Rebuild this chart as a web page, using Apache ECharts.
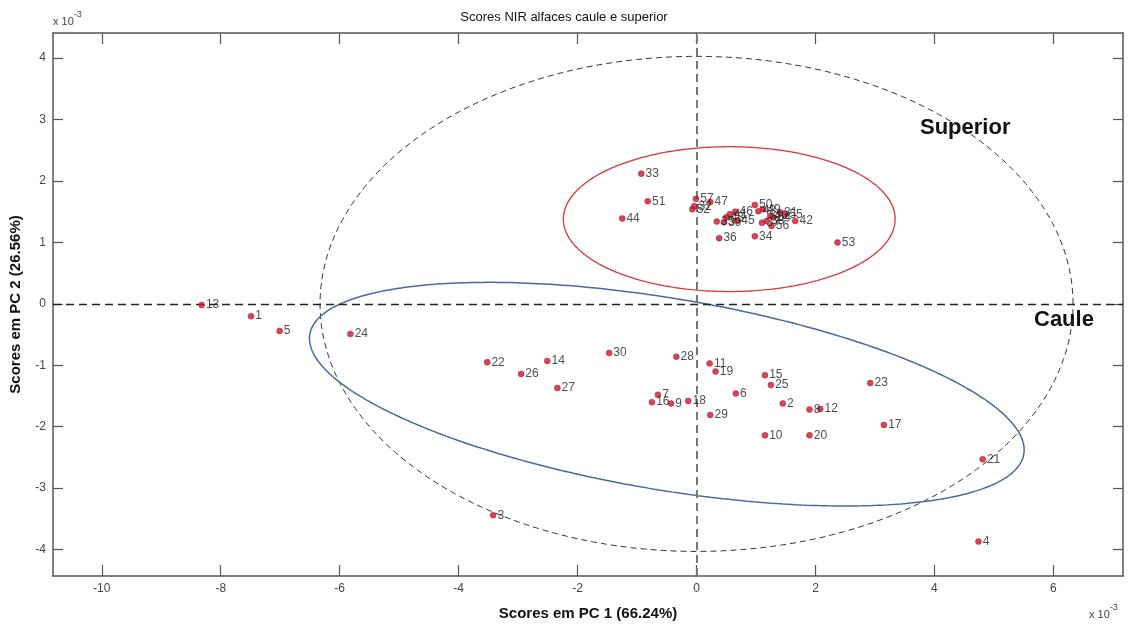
<!DOCTYPE html>
<html>
<head>
<meta charset="utf-8">
<script src="https://cdn.jsdelivr.net/npm/echarts@6/dist/echarts.min.js"></script>
<style>
html,body{margin:0;padding:0;background:#fff;}
#chart{width:1128px;height:626px;}
</style>
</head>
<body>
<div id="chart"></div>
<script>
// ---- data (scores in units of 1e-3) ----
const sampleIds = [1,2,3,4,5,6,7,8,9,10,11,12,13,14,15,16,17,18,19,20,21,22,23,24,25,26,27,28,29,30,
  31,32,33,34,35,36,37,38,39,40,41,42,43,44,45,46,47,48,49,50,51,52,53,54,55,56,57];
const pc1 = [-7.49,1.45,-3.42,4.74,-7.01,0.66,-0.65,1.90,-0.43,1.15,0.22,2.08,-8.32,-2.51,1.15,-0.75,3.15,-0.14,0.32,1.90,4.81,-3.52,2.92,-5.82,1.25,-2.95,-2.34,-0.34,0.23,-1.47,
  1.40,-0.04,-0.93,0.98,0.34,0.38,1.10,1.18,0.46,1.24,0.56,1.66,0.50,-1.25,0.68,0.65,0.23,1.04,1.12,0.98,-0.82,-0.07,2.37,1.29,1.49,1.26,-0.01];
const pc2 = [-0.20,-1.62,-3.44,-3.87,-0.44,-1.46,-1.48,-1.72,-1.62,-2.14,-0.97,-1.71,-0.02,-0.93,-1.16,-1.60,-1.97,-1.58,-1.10,-2.14,-2.53,-0.95,-1.29,-0.49,-1.32,-1.14,-1.37,-0.86,-1.81,-0.80,
  1.49,1.59,2.12,1.10,1.34,1.07,1.32,1.35,1.33,1.43,1.46,1.35,1.41,1.39,1.35,1.50,1.66,1.51,1.54,1.61,1.67,1.54,1.00,1.41,1.46,1.27,1.71];

const xTicks = [-10,-8,-6,-4,-2,0,2,4,6];
const yTicks = [-4,-3,-2,-1,0,1,2,3,4];
const xRange = [-10.82, 7.17];
const yRange = [-4.43, 4.41];

// ellipses: centre and covariance-like shape matrix (data units)
const limitCenter = [0, 0];
const limitShape = [[40.07, 0], [0, 16.24]];
const superiorCenter = [0.55, 1.38];
const superiorShape = [[7.78, 0], [0, 1.39]];
const cauleCenter = [-0.50, -1.47];
const cauleShape = [[36.10, -5.445], [-5.445, 3.314]];

function ellipse(center, M, n) {
  const l11 = Math.sqrt(M[0][0]);
  const l21 = M[1][0] / l11;
  const l22 = Math.sqrt(M[1][1] - l21 * l21);
  const pts = [];
  for (let i = 0; i <= n; i++) {
    const t = 2 * Math.PI * i / n;
    const c = Math.cos(t), s = Math.sin(t);
    pts.push([center[0] + l11 * c, center[1] + l21 * c + l22 * s]);
  }
  return pts;
}

const points = sampleIds.map((id, i) => [pc1[i], pc2[i], id]);
const FONT = '"Liberation Sans", Arial, sans-serif';

const chart = echarts.init(document.getElementById('chart'), null, {renderer: 'canvas'});
const axisColor = '#555';
chart.setOption({
  animation: false,
  backgroundColor: '#fff',
  textStyle: {fontFamily: FONT},
  title: {
    text: 'Scores NIR alfaces caule e superior',
    left: 'center', top: 6,
    textStyle: {fontSize: 13, fontWeight: 'normal', color: '#111', fontFamily: FONT}
  },
  grid: {left: 53, right: 5, top: 33, bottom: 46, containLabel: false},
  xAxis: [{
    type: 'value', position: 'bottom', min: xRange[0], max: xRange[1],
    axisLine: {show: true, onZero: false, lineStyle: {color: axisColor, width: 1.5}},
    axisTick: {show: true, inside: true, length: 11, customValues: xTicks, lineStyle: {color: axisColor, width: 1.2}},
    axisLabel: {customValues: xTicks, fontSize: 12, color: '#444', margin: 7, fontFamily: FONT},
    splitLine: {show: false},
    name: 'Scores em PC 1 (66.24%)', nameLocation: 'middle', nameGap: 30,
    nameTextStyle: {fontSize: 15, fontWeight: 'bold', color: '#111', fontFamily: FONT}
  }, {
    type: 'value', position: 'top', min: xRange[0], max: xRange[1],
    axisLine: {show: true, onZero: false, lineStyle: {color: axisColor, width: 1.5}},
    axisTick: {show: true, inside: true, length: 11, customValues: xTicks, lineStyle: {color: axisColor, width: 1.2}},
    axisLabel: {show: false}, splitLine: {show: false}
  }],
  yAxis: [{
    type: 'value', position: 'left', min: yRange[0], max: yRange[1],
    axisLine: {show: true, onZero: false, lineStyle: {color: axisColor, width: 1.5}},
    axisTick: {show: true, inside: true, length: 10, customValues: yTicks, lineStyle: {color: axisColor, width: 1.2}},
    axisLabel: {customValues: yTicks, fontSize: 12, color: '#444', margin: 7, fontFamily: FONT},
    splitLine: {show: false},
    name: 'Scores em PC 2 (26.56%)', nameLocation: 'middle', nameGap: 30, nameRotate: 90,
    nameTextStyle: {fontSize: 15, fontWeight: 'bold', color: '#111', fontFamily: FONT}
  }, {
    type: 'value', position: 'right', min: yRange[0], max: yRange[1],
    axisLine: {show: true, onZero: false, lineStyle: {color: axisColor, width: 1.5}},
    axisTick: {show: true, inside: true, length: 10, customValues: yTicks, lineStyle: {color: axisColor, width: 1.2}},
    axisLabel: {show: false}, splitLine: {show: false}
  }],
  series: [
    {
      type: 'line', z: 1, data: [], silent: true,
      markLine: {
        symbol: 'none', silent: true, animation: false,
        label: {show: false},
        data: [
          {xAxis: 0, lineStyle: {color: '#777', width: 2, type: [8, 5]}},
          {yAxis: 0, lineStyle: {color: '#222', width: 1.3, type: [8, 5]}}
        ]
      }
    },
    {
      type: 'line', z: 2, silent: true, showSymbol: false, symbol: 'none',
      data: ellipse(limitCenter, limitShape, 360),
      lineStyle: {color: '#333', width: 1, type: [6, 4]}
    },
    {
      type: 'line', z: 2, silent: true, showSymbol: false, symbol: 'none',
      data: ellipse(superiorCenter, superiorShape, 360),
      lineStyle: {color: '#e2323c', width: 1.3}
    },
    {
      type: 'line', z: 2, silent: true, showSymbol: false, symbol: 'none',
      data: ellipse(cauleCenter, cauleShape, 360),
      lineStyle: {color: '#4a6a9e', width: 1.5}
    },
    {
      type: 'scatter', z: 5, symbol: 'circle', symbolSize: 6,
      data: points,
      itemStyle: {color: '#d01430', borderColor: '#a00f24', borderWidth: 0.5},
      label: {
        show: true, position: 'right', distance: 1, offset: [0, 1],
        formatter: p => String(p.value[2]),
        fontSize: 12, color: '#222', fontFamily: FONT
      },
      labelLayout: {hideOverlap: false}
    }
  ],
  graphic: [
    {type: 'text', left: 920, top: 117, style: {text: 'Superior', font: 'bold 22px ' + FONT, fill: '#111'}},
    {type: 'text', left: 1034, top: 309, style: {text: 'Caule', font: 'bold 22px ' + FONT, fill: '#111'}},
    {type: 'text', left: 53, top: 10, style: {
      text: '{a|x 10}{b|-3}',
      rich: {a: {fontSize: 11, fill: '#444', fontFamily: FONT, padding: [6, 0, 0, 0]}, b: {fontSize: 9, fill: '#444', fontFamily: FONT, verticalAlign: 'top'}}
    }},
    {type: 'text', left: 1089, top: 603, style: {
      text: '{a|x 10}{b|-3}',
      rich: {a: {fontSize: 11, fill: '#444', fontFamily: FONT, padding: [6, 0, 0, 0]}, b: {fontSize: 9, fill: '#444', fontFamily: FONT, verticalAlign: 'top'}}
    }}
  ]
});
</script>
</body>
</html>
